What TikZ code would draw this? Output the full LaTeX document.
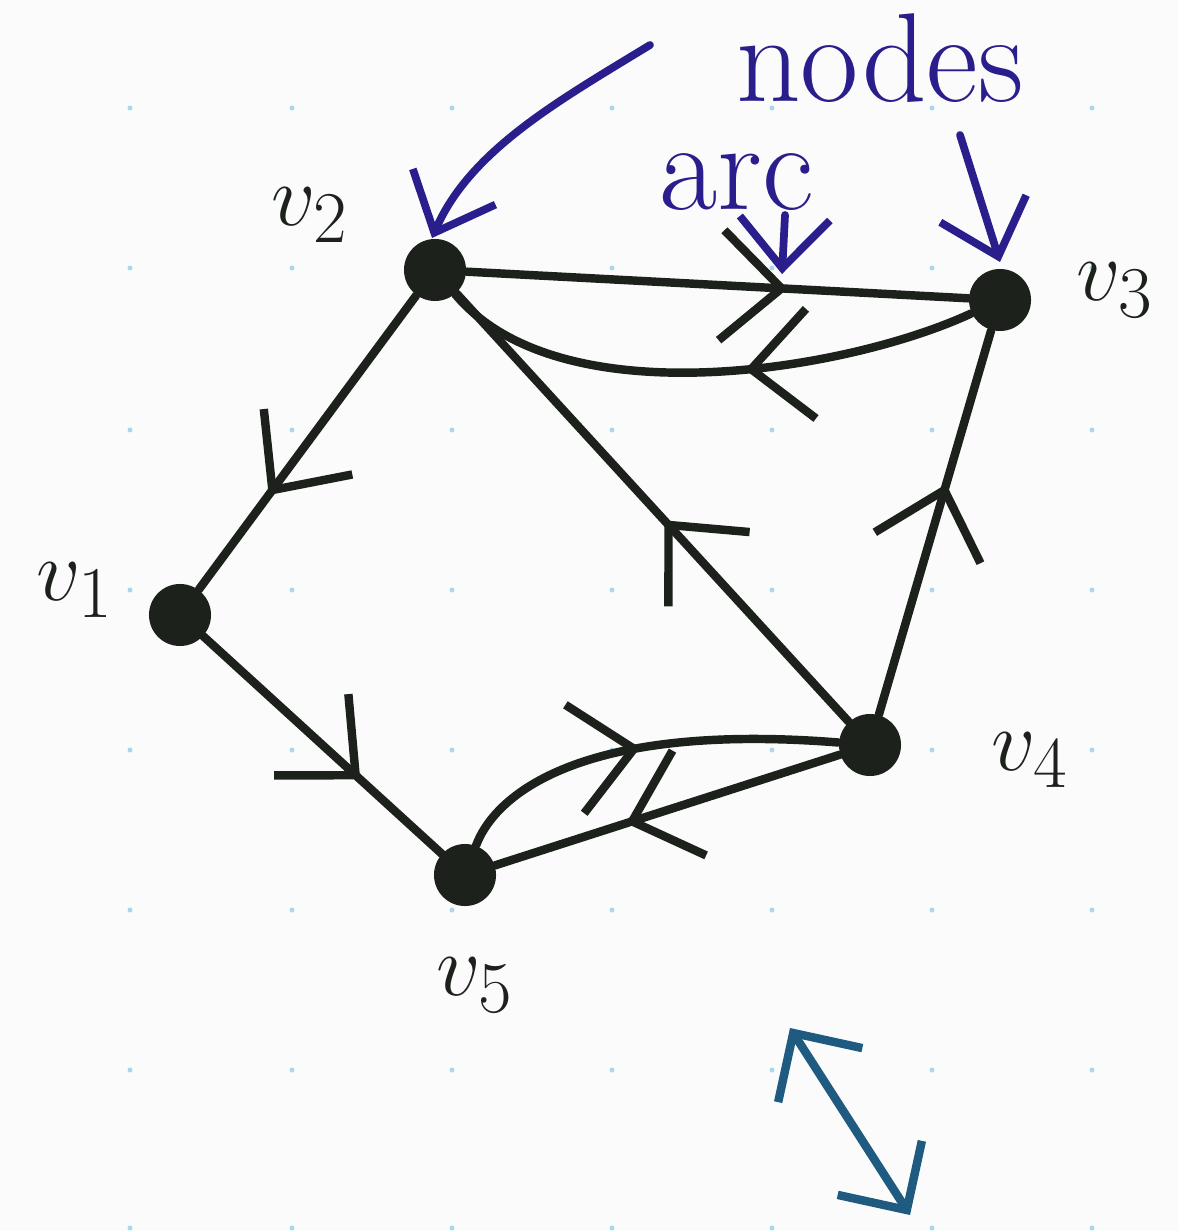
\documentclass[tikz,border=0pt]{standalone}
\usetikzlibrary{arrows.meta,decorations.markings}
\definecolor{ink}{HTML}{1C211C}
\definecolor{pen}{HTML}{2A1D8C}
\definecolor{teal}{HTML}{1F5A80}
\definecolor{griddot}{HTML}{A9D8EE}
\tikzset{
  vtx/.style={circle,fill=ink,inner sep=0pt,minimum size=0.62cm},
  lbl/.style={font=\fontsize{32}{34}\selectfont,text=ink},
  arcline/.style={draw=ink,line width=2.4pt,line cap=round,
    postaction={decorate},
    decoration={markings,mark=at position #1 with {\arrow[ink,line width=2.4pt]{Straight Barb[length=6mm,width=11mm]}}}},
  arcline/.default=0.55,
  note/.style={font=\fontsize{36}{38}\selectfont,text=pen,inner sep=0pt},
  notearrow/.style={draw=pen,line width=2.2pt,line cap=round,-{Straight Barb[length=5mm,width=9mm]}}
}
\begin{document}
\begin{tikzpicture}[x=0.01cm,y=-0.01cm]
\useasboundingbox (0,0) rectangle (1178,1231);
\fill[white!97!gray] (0,0) rectangle (1178,1231);
\foreach \gx in {130,292,452,612,772,932,1092}
  \foreach \gy in {108,268,430,590,750,910,1070,1228}
    \fill[griddot] (\gx,\gy) circle (2.5);
\node[vtx] (v1) at (180,615) {};
\node[vtx] (v2) at (435,270) {};
\node[vtx] (v3) at (1000,300) {};
\node[vtx] (v4) at (870,745) {};
\node[vtx] (v5) at (465,875) {};
\node[lbl] (l1) at (75,590) {$v_1$};
\node[lbl] (l2) at (310,215) {$v_2$};
\node[lbl] (l3) at (1115,290) {$v_3$};
\node[lbl] (l4) at (1030,760) {$v_4$};
\node[lbl] (l5) at (475,985) {$v_5$};
\draw[arcline=0.64] (v2) -- (v3);
\draw[arcline=0.43] (v3) .. controls (850,370) and (560,420) .. (v2);
\draw[arcline=0.68] (v2) -- (v1);
\draw[arcline=0.66] (v1) -- (v5);
\draw[arcline=0.47] (v4) -- (v2);
\draw[arcline=0.6] (v4) -- (v3);
\draw[arcline=0.5] (v5) .. controls (495,795) and (580,722) .. (v4);
\draw[arcline=0.62] (v4) -- (v5);
\node[note] (nodes) at (880,58) {nodes};
\node[note] (arc) at (737,182) {arc};
\coordinate (n0) at (650,45);
\coordinate (n1) at (432,238);
\draw[notearrow] (n0) .. controls (560,100) and (470,150) .. (n1);
\coordinate (m0) at (960,135);
\coordinate (m1) at (1000,262);
\draw[notearrow] (m0) -- (m1);
\coordinate (a0) at (785,215);
\coordinate (a1) at (782,274);
\draw[notearrow] (a0) -- (a1);
\coordinate (d0) at (790,1028);
\coordinate (d1) at (910,1215);
\draw[draw=teal,line width=2.4pt,line cap=round,{Straight Barb[length=5mm,width=10mm]}-{Straight Barb[length=5mm,width=10mm]}] (d0) -- (d1);
\end{tikzpicture}
\end{document}
